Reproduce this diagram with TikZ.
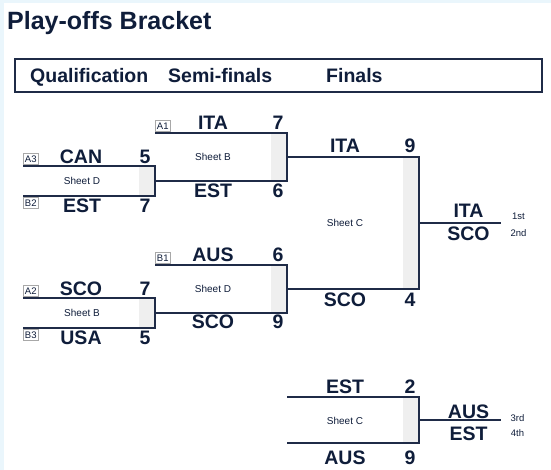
\documentclass[tikz,border=0pt]{standalone}
\usepackage{fontspec}
\setmainfont{Liberation Sans}
\definecolor{ink}{HTML}{0F1D3A}
\definecolor{linec}{HTML}{1F2B47}
\definecolor{boxgray}{HTML}{EFEFEF}
\definecolor{bgblue}{HTML}{EAF6FC}
\definecolor{tagc}{HTML}{A8A8A8}
\newcommand\drawmatch[5]{% name, xl, xr, ytop, ybot
  \coordinate (#1-tl) at (#2,#4);
  \coordinate (#1-tr) at (#3,#4);
  \coordinate (#1-bl) at (#2,#5);
  \coordinate (#1-br) at (#3,#5);
  \coordinate (#1-m) at (#3,{(#4+#5)/2});
  \coordinate (#1-g) at ({#3-16},#4);
  \fill[fill=boxgray] (#1-g) rectangle (#1-br);
  \draw[bline] (#1-tl) -- (#1-tr) -- (#1-br) -- (#1-bl);
}
\begin{document}
\begin{tikzpicture}[x=1pt,y=-1pt,
  team/.style={font=\bfseries\fontsize{19.5}{20}\selectfont, text=ink, inner sep=0pt},
  sheet/.style={font=\fontsize{10}{11}\selectfont, text=ink, inner sep=0pt},
  place/.style={font=\fontsize{9.5}{10}\selectfont, text=ink, inner sep=0pt},
  tag/.style={draw=tagc, line width=0.6pt, font=\fontsize{9.5}{10}\selectfont, text=ink, inner sep=0pt, minimum width=15pt, minimum height=11pt},
  head/.style={font=\bfseries\fontsize{19.5}{20}\selectfont, text=ink, inner sep=0pt, anchor=base west},
  bline/.style={draw=linec, line width=1.8pt},
]
\useasboundingbox (0,0) rectangle (551,470);
\fill[bgblue] (0,0) rectangle (551,470);
\fill[white] (4,3) rectangle (551,470);

% title and header
\node[head, font=\bfseries\fontsize{25}{26}\selectfont] (title) at (7,30) {Play-offs Bracket};
\draw[draw=linec, line width=1.4pt] (15,59) rectangle (542,92);
\node[head] (hq) at (30,83) {Qualification};
\node[head] (hs) at (168,83) {Semi-finals};
\node[head] (hf) at (326,83) {Finals};

% qualification 1
\drawmatch{q1}{23}{155}{166}{196}
\node[tag, anchor=south west] (tA3) at (23,165) {A3};
\node[tag, anchor=north west] (tB2) at (23,197) {B2};
\node[team] (q1a) at (81,157) {CAN};
\node[team] (q1as) at (145,157) {5};
\node[sheet] (q1s) at (82,181) {Sheet D};
\node[team] (q1b) at (82,206) {EST};
\node[team] (q1bs) at (145,206) {7};

% qualification 2
\drawmatch{q2}{23}{155}{298}{328}
\node[tag, anchor=south west] (tA2) at (23,297) {A2};
\node[tag, anchor=north west] (tB3) at (23,329) {B3};
\node[team] (q2a) at (81,289) {SCO};
\node[team] (q2as) at (145,289) {7};
\node[sheet] (q2s) at (82,313) {Sheet B};
\node[team] (q2b) at (81,337.5) {USA};
\node[team] (q2bs) at (145,337.5) {5};

% semi-final 1
\drawmatch{s1}{155}{287}{133}{181}
\node[tag, anchor=south west] (tA1) at (155,132) {A1};
\node[team] (s1a) at (213,122.5) {ITA};
\node[team] (s1as) at (278,122.5) {7};
\node[sheet] (s1s) at (213,157) {Sheet B};
\node[team] (s1b) at (213,190.5) {EST};
\node[team] (s1bs) at (278,190.5) {6};

% semi-final 2
\drawmatch{s2}{155}{287}{265}{313}
\node[tag, anchor=south west] (tB1) at (155,264) {B1};
\node[team] (s2a) at (213,255) {AUS};
\node[team] (s2as) at (278,255) {6};
\node[sheet] (s2s) at (213,289) {Sheet D};
\node[team] (s2b) at (213,322) {SCO};
\node[team] (s2bs) at (278,322) {9};

% final
\drawmatch{f}{287}{419}{157}{289}
\node[team] (fa) at (345,145.5) {ITA};
\node[team] (fas) at (410,145.5) {9};
\node[sheet] (fs) at (345,223) {Sheet C};
\node[team] (fb) at (345,300) {SCO};
\node[team] (fbs) at (410,300) {4};
\coordinate (fend) at (501,223);
\draw[bline] (f-m) -- (fend);
\node[team] (w1) at (468.5,211) {ITA};
\node[team] (w2) at (468.5,234) {SCO};
\node[place] (p1) at (518.5,216) {1st};
\node[place] (p2) at (518.5,233) {2nd};

% third place
\drawmatch{t}{287}{419}{397}{443}
\node[team] (ta) at (345,386.5) {EST};
\node[team] (tas) at (410,386.5) {2};
\node[sheet] (ts) at (345,421) {Sheet C};
\node[team] (tb) at (345,457.5) {AUS};
\node[team] (tbs) at (410,457.5) {9};
\coordinate (tend) at (501,420);
\draw[bline] (t-m) -- (tend);
\node[team] (w3) at (468.5,412) {AUS};
\node[team] (w4) at (468.5,434) {EST};
\node[place] (p3) at (517.5,418) {3rd};
\node[place] (p4) at (517.5,433) {4th};
\end{tikzpicture}
\end{document}
